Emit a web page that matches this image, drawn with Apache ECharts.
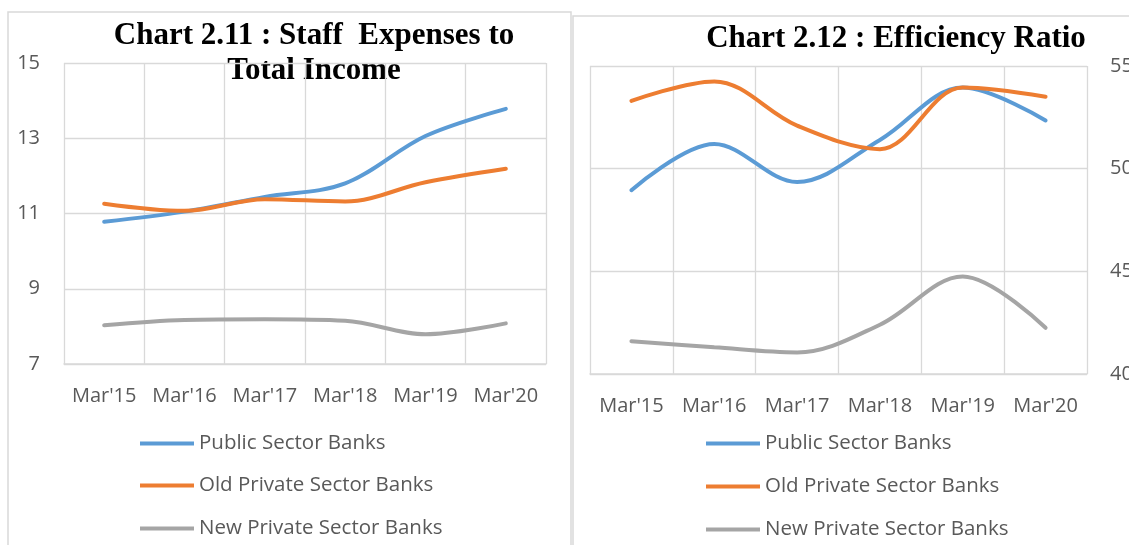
<!DOCTYPE html>
<html>
<head>
<meta charset="utf-8">
<style>
  html, body { margin: 0; padding: 0; background: #fff; }
  #chart { width: 1129px; height: 545px; }
</style>
<script src="https://cdn.jsdelivr.net/npm/echarts@6/dist/echarts.min.js"></script>
</head>
<body>
<div id="chart"></div>
<script>
const years = ["Mar'15", "Mar'16", "Mar'17", "Mar'18", "Mar'19", "Mar'20"]
const seriesNames = ['Public Sector Banks', 'Old Private Sector Banks', 'New Private Sector Banks']
const colors = ['#5B9BD5', '#ED7D31', '#A5A5A5']

// Chart 2.11 : staff expenses to total income (%)
const staffPublic = [10.78, 11.05, 11.44, 11.8, 13.06, 13.78]
const staffOldPvt = [11.26, 11.07, 11.38, 11.32, 11.83, 12.19]
const staffNewPvt = [8.03, 8.17, 8.19, 8.15, 7.79, 8.08]

// Chart 2.12 : efficiency ratio (%)
const effPublic = [48.95, 51.2, 49.35, 51.4, 53.95, 52.35]
const effOldPvt = [53.3, 54.25, 52.1, 50.95, 53.95, 53.5]
const effNewPvt = [41.6, 41.3, 41.05, 42.4, 44.75, 42.25]

const sans = '"Open Sans", sans-serif'
const serif = '"Liberation Serif", serif'
const labelColor = '#595959'
const gridColor = '#D9D9D9'

const chart = echarts.init(document.getElementById('chart'), null, { renderer: 'canvas' })

const xAxisFor = (gridIndex) => ({
  type: 'category',
  gridIndex,
  data: years,
  boundaryGap: true,
  axisLine: { lineStyle: { color: gridColor, width: 1.5 } },
  axisTick: { show: false },
  splitLine: { show: true, interval: 0, lineStyle: { color: gridColor, width: 1.3 } },
  axisLabel: { interval: 0, margin: 22, color: labelColor, fontSize: 20, fontFamily: sans }
})

const yAxisFor = (gridIndex, min, max, interval, position, margin) => ({
  type: 'value',
  gridIndex,
  min, max, interval,
  position,
  axisLine: { show: false },
  axisTick: { show: false },
  splitLine: { lineStyle: { color: gridColor, width: 1.3 } },
  axisLabel: { margin, color: labelColor, fontSize: 20, fontFamily: sans }
})

const lineFor = (name, data, idx, axisIdx) => ({
  name,
  type: 'line',
  xAxisIndex: axisIdx,
  yAxisIndex: axisIdx,
  data,
  smooth: 0.35,
  showSymbol: false,
  color: colors[idx],
  lineStyle: { width: 4, color: colors[idx], cap: 'round' },
  emphasis: { disabled: true }
})

// one legend per row so each row sits where the reference has it
const legendRow = (left, centerY, name) => ({
  left, top: centerY - 10,
  padding: 0,
  icon: 'rect',
  itemWidth: 54,
  itemHeight: 4,
  selectedMode: false,
  data: [name],
  textStyle: { color: labelColor, fontSize: 20.5, fontFamily: sans, lineHeight: 20 }
})

chart.setOption({
  backgroundColor: '#fff',
  animation: false,
  graphic: [
    { type: 'rect', shape: { x: 8, y: 12, width: 563, height: 560 }, style: { fill: 'none', stroke: gridColor, lineWidth: 1.5 }, silent: true },
    { type: 'rect', shape: { x: 573, y: 16, width: 600, height: 560 }, style: { fill: 'none', stroke: gridColor, lineWidth: 1.5 }, silent: true },
    { type: 'text', x: 314, y: 36, style: { text: 'Chart 2.11 : Staff  Expenses to', font: 'bold 31px ' + serif, fill: '#000', align: 'center', verticalAlign: 'middle' }, silent: true },
    { type: 'text', x: 314, y: 71, style: { text: 'Total Income', font: 'bold 31px ' + serif, fill: '#000', align: 'center', verticalAlign: 'middle' }, silent: true },
    { type: 'text', x: 896, y: 39, style: { text: 'Chart 2.12 : Efficiency Ratio', font: 'bold 31px ' + serif, fill: '#000', align: 'center', verticalAlign: 'middle' }, silent: true }
  ],
  grid: [
    { left: 64, top: 63, width: 482, height: 301, outerBoundsMode: 'none' },
    { left: 590, top: 66, width: 497, height: 308, outerBoundsMode: 'none' }
  ],
  legend: [
    legendRow(140, 443, seriesNames[0]),
    legendRow(140, 485, seriesNames[1]),
    legendRow(140, 528, seriesNames[2]),
    legendRow(706, 443, seriesNames[0]),
    legendRow(706, 486, seriesNames[1]),
    legendRow(706, 529, seriesNames[2])
  ],
  xAxis: [xAxisFor(0), xAxisFor(1)],
  yAxis: [
    yAxisFor(0, 7, 15, 2, 'left', 24),
    yAxisFor(1, 40, 55, 5, 'right', 23)
  ],
  series: [
    lineFor(seriesNames[0], staffPublic, 0, 0),
    lineFor(seriesNames[1], staffOldPvt, 1, 0),
    lineFor(seriesNames[2], staffNewPvt, 2, 0),
    lineFor(seriesNames[0], effPublic, 0, 1),
    lineFor(seriesNames[1], effOldPvt, 1, 1),
    lineFor(seriesNames[2], effNewPvt, 2, 1)
  ]
})
</script>
</body>
</html>
